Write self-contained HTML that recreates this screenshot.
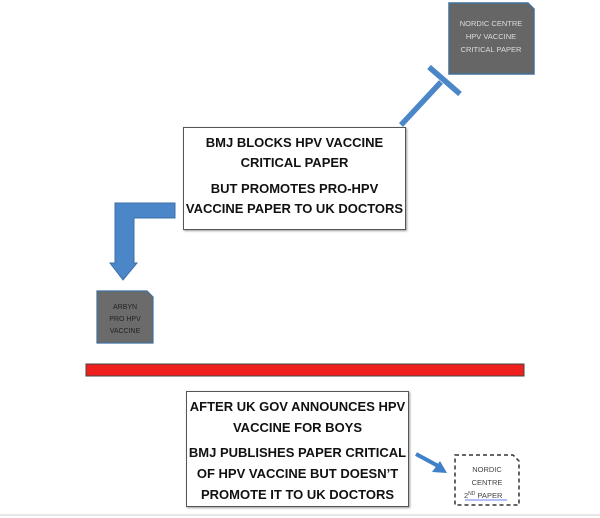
<!DOCTYPE html>
<html><head><style>
body{margin:0;width:600px;height:518px;background:#fff;position:relative;overflow:hidden;font-family:"Liberation Sans",Arial,sans-serif}
.box{position:absolute;border:1px solid #555;background:#fff;text-align:center;font-weight:bold;font-size:13px;color:#111;box-shadow:1px 1px 2px #999}
</style></head><body>
<svg width="600" height="518" style="position:absolute;left:0;top:0">
<path d="M449,3 H528 L534,9 V74 H449 Z" fill="#666" stroke="#41719c" stroke-width="1.5"/>
<text x="491" y="26" font-size="7.5" fill="#ddd" text-anchor="middle" font-family="Liberation Sans">NORDIC CENTRE</text>
<text x="491" y="39" font-size="7.5" fill="#ddd" text-anchor="middle" font-family="Liberation Sans">HPV VACCINE</text>
<text x="491" y="52" font-size="7.5" fill="#ddd" text-anchor="middle" font-family="Liberation Sans">CRITICAL PAPER</text>
<line x1="401" y1="125" x2="441" y2="82" stroke="#4a86c8" stroke-width="5.5"/>
<line x1="429" y1="67" x2="460" y2="94" stroke="#4a86c8" stroke-width="5.5"/>
<path d="M175,203 H115 V263 H110 L123,280 L137,263 H134 V218 H175 Z" fill="#4a86c8" stroke="#3d6fa8" stroke-width="1"/>
<path d="M97,291 H147 L153,297 V343 H97 Z" fill="#6b6b6b" stroke="#41719c" stroke-width="1.2"/>
<text x="125" y="309" font-size="7" fill="#222" text-anchor="middle" font-family="Liberation Sans">ARBYN</text>
<text x="125" y="321" font-size="7" fill="#222" text-anchor="middle" font-family="Liberation Sans">PRO HPV</text>
<text x="125" y="333" font-size="7" fill="#222" text-anchor="middle" font-family="Liberation Sans">VACCINE</text>
<rect x="86" y="364" width="438" height="12" fill="#f0201e" stroke="#444" stroke-width="1"/>
<line x1="416" y1="454" x2="440" y2="467" stroke="#3f80c8" stroke-width="4"/>
<path d="M447,473 L432,472 L440,461 Z" fill="#3f80c8"/>
<path d="M455,455 H513 L519,461 V505 H455 Z" fill="#fff" stroke="#333" stroke-width="1.5" stroke-dasharray="4,3"/>
<text x="487" y="472" font-size="7.5" fill="#444" text-anchor="middle" font-family="Liberation Sans">NORDIC</text>
<text x="487" y="485" font-size="7.5" fill="#444" text-anchor="middle" font-family="Liberation Sans">CENTRE</text>
<text x="464" y="498" font-size="7.5" fill="#444" font-family="Liberation Sans">2<tspan font-size="5" dy="-3">ND</tspan><tspan dy="3">  PAPER</tspan></text>
<line x1="465" y1="500" x2="507" y2="500" stroke="#3355ee" stroke-width="0.8"/>
<line x1="0" y1="515" x2="600" y2="515" stroke="#ccc" stroke-width="1"/>
</svg>
<div class="box" style="left:183px;top:127px;width:221px;height:101px;line-height:20px">
<div style="margin-top:5px">BMJ BLOCKS HPV VACCINE<br>CRITICAL PAPER</div>
<div style="margin-top:6px">BUT PROMOTES PRO-HPV<br>VACCINE PAPER TO UK DOCTORS</div>
</div>
<div class="box" style="left:186px;top:391px;width:221px;height:114px;line-height:21px">
<div style="margin-top:4px">AFTER UK GOV ANNOUNCES HPV<br>VACCINE FOR BOYS</div>
<div style="margin-top:4px">BMJ PUBLISHES PAPER CRITICAL<br>OF HPV VACCINE BUT DOESN’T<br>PROMOTE IT TO UK DOCTORS</div>
</div>
</body></html>
